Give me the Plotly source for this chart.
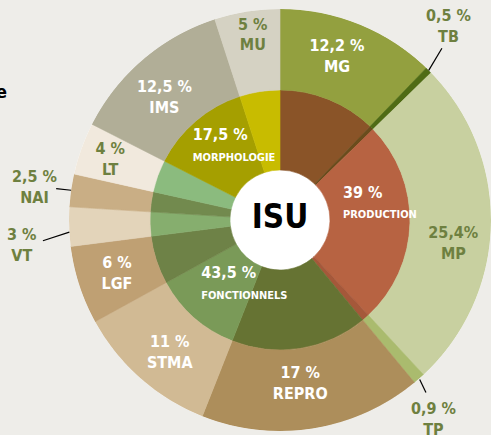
import math
import plotly.graph_objects as go

# ---------------- data ----------------
codes = ["MG", "TB", "MP", "TP", "REPRO", "STMA", "LGF", "VT", "NAI", "LT", "IMS", "MU"]
values = [12.2, 0.5, 25.4, 0.9, 17, 11, 6, 3, 2.5, 4, 12.5, 5]
value_labels = ["12,2 %", "0,5 %", "25,4%", "0,9 %", "17 %", "11 %", "6 %", "3 %",
                "2,5 %", "4 %", "12,5 %", "5 %"]
groups = ["PRODUCTION", "FONCTIONNELS", "MORPHOLOGIE"]
group_values = [39, 43.5, 17.5]
group_labels = ["39 %", "43,5 %", "17,5 %"]
center_label = "ISU"

# ---------------- style ----------------
BG = "#EEEDE9"
GREEN_TXT = "#6E8040"
FONT = "Liberation Sans Narrow, DejaVu Sans Condensed, Arial Narrow, sans-serif"
R_HOLE, R_MID, R_OUT = 50, 130, 211
W, H = 491, 435
DOM_X = [69 / W, 1.0]
DOM_Y = [3 / H, 427 / H]

outer_colors = ["#93A03F", "#4F6B15", "#C8D0A0", "#AABB6E", "#AD8E5B", "#D1BA94",
                "#BFA073", "#E3D4BA", "#C9AE85", "#F1E9DD", "#B1AE97", "#D5D2C3"]
inner_colors = ["#8A5428", "#6A4C1C", "#B76342", "#A5583A", "#667333", "#7A9A58",
                "#6E8247", "#86AE6E", "#728A4E", "#8BBB7E", "#A59F00", "#C8BC00"]
label_colors = {"MG": "white", "IMS": "white", "REPRO": "white", "STMA": "white",
                "LGF": "white"}
outside = ["TB", "TP", "NAI", "VT"]
# label placement: (radius, angle offset from segment centre)
label_pos = {"MG": (172, -2.6), "MU": (186, 0.6), "IMS": (168, -3), "LT": (180, -0.4),
             "LGF": (172, -0.6), "STMA": (173, -1.8), "REPRO": (166, 2), "MP": (175, 6.5),
             "TB": (257, -3.9), "TP": (251, 3.6), "NAI": (248, -0.5), "VT": (260, -3.7)}
leader = {"TB": ((211, 0), (236, -1.5)), "TP": ((212, 0), (226, 1.0)),
          "NAI": ((211, 0), (226, -0.1)), "VT": ((211, -1.5), (238, -3.2))}
group_pos = {"PRODUCTION": (65, 5.5), "FONCTIONNELS": (102, 11.9),
             "MORPHOLOGIE": (114, -18.5)}

# ---------------- geometry from data ----------------
widths, centers = [], []
start = 0.0
for v in values:
    w = v * 3.6
    widths.append(w)
    centers.append(start + w / 2)
    start += w

g_centers = []
start = 0.0
for v in group_values:
    w = v * 3.6
    g_centers.append(start + w / 2)
    start += w

# polar -> paper conversion (for items outside the radial range)
cx_px = (DOM_X[0] + DOM_X[1]) / 2 * W
cy_px = H - (DOM_Y[0] + DOM_Y[1]) / 2 * H
rad_px = min((DOM_X[1] - DOM_X[0]) * W, (DOM_Y[1] - DOM_Y[0]) * H) / 2
scale = rad_px / R_OUT


def to_paper(r, theta):
    t = math.radians(theta)
    px = cx_px + r * scale * math.sin(t)
    py = cy_px - r * scale * math.cos(t)
    return px / W, 1 - py / H


fig = go.Figure()

# inner ring
fig.add_trace(go.Barpolar(
    theta=centers, width=widths, base=[R_HOLE] * len(values), r=[R_MID - R_HOLE] * len(values),
    marker=dict(color=inner_colors, line=dict(color=inner_colors, width=0.6)),
    hoverinfo="skip", showlegend=False))
# outer ring
fig.add_trace(go.Barpolar(
    theta=centers, width=widths, base=[R_MID] * len(values), r=[R_OUT - R_MID] * len(values),
    marker=dict(color=outer_colors, line=dict(color=outer_colors, width=0.6)),
    hoverinfo="skip", showlegend=False))

# inner (in-ring) outer labels
lr, lt, ltxt, lcol = [], [], [], []
for i, code in enumerate(codes):
    if code in outside:
        continue
    r, d = label_pos[code]
    lr.append(r)
    lt.append(centers[i] + d)
    ltxt.append(f"{value_labels[i]}<br>{code}")
    lcol.append(label_colors.get(code, GREEN_TXT))
fig.add_trace(go.Scatterpolar(
    r=lr, theta=lt, text=ltxt, mode="text",
    textfont=dict(family=FONT, size=16, color=lcol, weight="bold"),
    textposition="middle center", hoverinfo="skip", showlegend=False))

# group labels (left aligned)
gr, gt, gtxt = [], [], []
for i, g in enumerate(groups):
    r, d = group_pos[g]
    gr.append(r)
    gt.append(g_centers[i] + d)
    gtxt.append(f"{group_labels[i]}<br><span style='font-size:11px'>{g}</span>")
fig.add_trace(go.Scatterpolar(
    r=gr, theta=gt, text=gtxt, mode="text",
    textfont=dict(family=FONT, size=16, color="white", weight="bold"),
    textposition="middle right", hoverinfo="skip", showlegend=False))

# centre label
fig.add_trace(go.Scatterpolar(
    r=[0], theta=[0], text=[center_label], mode="text",
    textfont=dict(family=FONT, size=33, color="black", weight="bold"),
    textposition="middle center", hoverinfo="skip", showlegend=False))

annotations = []
shapes = []
for code in outside:
    i = codes.index(code)
    r, d = label_pos[code]
    x, y = to_paper(r, centers[i] + d)
    annotations.append(dict(
        text=f"{value_labels[i]}<br>{code}", x=x, y=y, xref="paper", yref="paper",
        xanchor="center", yanchor="middle", showarrow=False,
        font=dict(family=FONT, size=16, color=GREEN_TXT, weight="bold")))
    (r0, d0), (r1, d1) = leader[code]
    x0, y0 = to_paper(r0, centers[i] + d0)
    x1, y1 = to_paper(r1, centers[i] + d1)
    shapes.append(dict(type="line", xref="paper", yref="paper", x0=x0, y0=y0,
                       x1=x1, y1=y1, line=dict(color="black", width=1.2)))

annotations.append(dict(text="<b>e</b>", x=9 / W, y=1 - 91 / H, xref="paper",
                        yref="paper", xanchor="right", yanchor="middle", showarrow=False,
                        font=dict(family=FONT, size=18, color="black")))

fig.update_layout(
    width=W, height=H, margin=dict(l=0, r=0, t=0, b=0),
    paper_bgcolor=BG, plot_bgcolor=BG, showlegend=False,
    polar=dict(
        domain=dict(x=DOM_X, y=DOM_Y),
        bgcolor="white", hole=0,
        angularaxis=dict(rotation=90, direction="clockwise", visible=False,
                         showgrid=False, showline=False, ticks=""),
        radialaxis=dict(range=[0, R_OUT], visible=False, showgrid=False,
                        showline=False, ticks=""),
    ),
    annotations=annotations,
    shapes=shapes,
)

fig.write_html("out.html", config={"displayModeBar": False},
               post_script="document.body.style.margin='0';")
